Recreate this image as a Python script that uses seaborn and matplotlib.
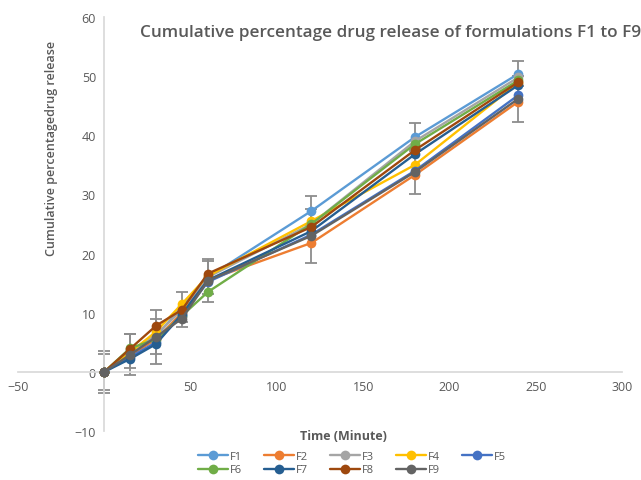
import numpy as np
import pandas as pd
import matplotlib
matplotlib.use("Agg")
import matplotlib.pyplot as plt
import seaborn as sns

# ---- data ----
times = [0, 15, 30, 45, 60, 120, 180, 240]
F1 = [0, 3.5, 6.0, 11.0, 16.0, 27.2, 39.7, 50.4]
F2 = [0, 2.8, 5.5, 10.0, 15.5, 21.8, 33.3, 45.7]
F3 = [0, 3.2, 6.3, 10.5, 16.0, 25.0, 39.0, 49.8]
F4 = [0, 3.3, 6.8, 11.5, 16.2, 25.5, 35.0, 48.9]
F5 = [0, 2.5, 5.0, 9.5, 15.2, 23.2, 34.0, 46.8]
F6 = [0, 4.0, 5.5, 9.5, 13.5, 25.0, 38.5, 49.3]
F7 = [0, 2.2, 4.7, 9.8, 15.5, 23.8, 36.8, 48.5]
F8 = [0, 3.9, 7.8, 10.5, 16.6, 24.5, 37.5, 49.0]
F9 = [0, 2.9, 5.9, 9.0, 15.4, 23.0, 33.8, 46.2]
F1_err = [3.5, 2.9, 2.9, 2.5, 2.8, 2.6, 2.3, 2.1]
F9_err = [3.0, 3.5, 4.5, 1.4, 3.6, 4.6, 3.8, 3.9]

names = ["F1", "F2", "F3", "F4", "F5", "F6", "F7", "F8", "F9"]
series = [F1, F2, F3, F4, F5, F6, F7, F8, F9]
colors = ["#5B9BD5", "#ED7D31", "#A5A5A5", "#FFC000", "#4472C4",
          "#70AD47", "#255E91", "#9E480E", "#636363"]

xticks = [-50, 50, 100, 150, 200, 250, 300]
yticks = [-10, 0, 10, 20, 30, 40, 50, 60]

title = "Cumulative percentage drug release of formulations F1 to F9"
xlabel = "Time (Minute)"
ylabel = "Cumulative percentagedrug release"

rows = []
for n, s in zip(names, series):
    for t, v in zip(times, s):
        rows.append({"Time": t, "Release": v, "Formulation": n})
df = pd.DataFrame(rows)

sns.set_theme(style="white")
plt.rcParams['font.family'] = ['Open Sans', 'DejaVu Sans']
txt = "#595959"

fig = plt.figure(figsize=(6.41, 4.81), dpi=100)
ax = fig.add_axes([18/641, 1 - 432/481, 604/641, 414/481])

# error bars (grey) drawn beneath
for s, e in [(F1, F1_err), (F9, F9_err)]:
    ax.errorbar(times, s, yerr=e, fmt='none', ecolor="#8C8C8C",
                elinewidth=1.3, capsize=4, capthick=1.3, zorder=1)

sns.lineplot(data=df, x="Time", y="Release", hue="Formulation",
             hue_order=names, palette=colors, marker="o", markersize=7,
             markeredgewidth=0, linewidth=1.7, ax=ax, legend=True, zorder=3)

ax.set_xlim(-50, 300)
ax.set_ylim(-10, 60)
ax.set_xticks(xticks)
ax.set_yticks(yticks)
for sp in ["top", "right"]:
    ax.spines[sp].set_visible(False)
ax.spines["left"].set_position(("data", 0))
ax.spines["bottom"].set_position(("data", 0))
ax.spines["left"].set_color("#D9D9D9")
ax.spines["bottom"].set_color("#D9D9D9")
ax.tick_params(axis="both", length=0, labelsize=9, labelcolor=txt, pad=6)
ax.set_xlabel("")
ax.set_ylabel("")
ax.grid(False)

# legend, row-major order
handles, labels = ax.get_legend_handles_labels()
ax.get_legend().remove()
hmap = dict(zip(labels, handles))
order = ["F1", "F6", "F2", "F7", "F3", "F8", "F4", "F9", "F5"]
leg = fig.legend([hmap[k] for k in order], order, ncol=5, loc="center",
                 bbox_to_anchor=(352/641, 1 - 464/481), frameon=False,
                 fontsize=8, handlelength=2.7, columnspacing=1.9,
                 handletextpad=0.25, labelspacing=0.25, borderpad=0.2)
for t in leg.get_texts():
    t.set_color(txt)

fig.text(140/641, 1 - 33/481, title, fontsize=12.3, fontweight="semibold",
         color=txt, ha="left", va="center")
fig.text(343/641, 1 - 437/481, xlabel, fontsize=9, fontweight="bold",
         color=txt, ha="center", va="center")
fig.text(52/641, 1 - 148/481, ylabel, fontsize=9, fontweight="semibold",
         color=txt, ha="center", va="center", rotation=90)

fig.savefig("out.png", dpi=100)
